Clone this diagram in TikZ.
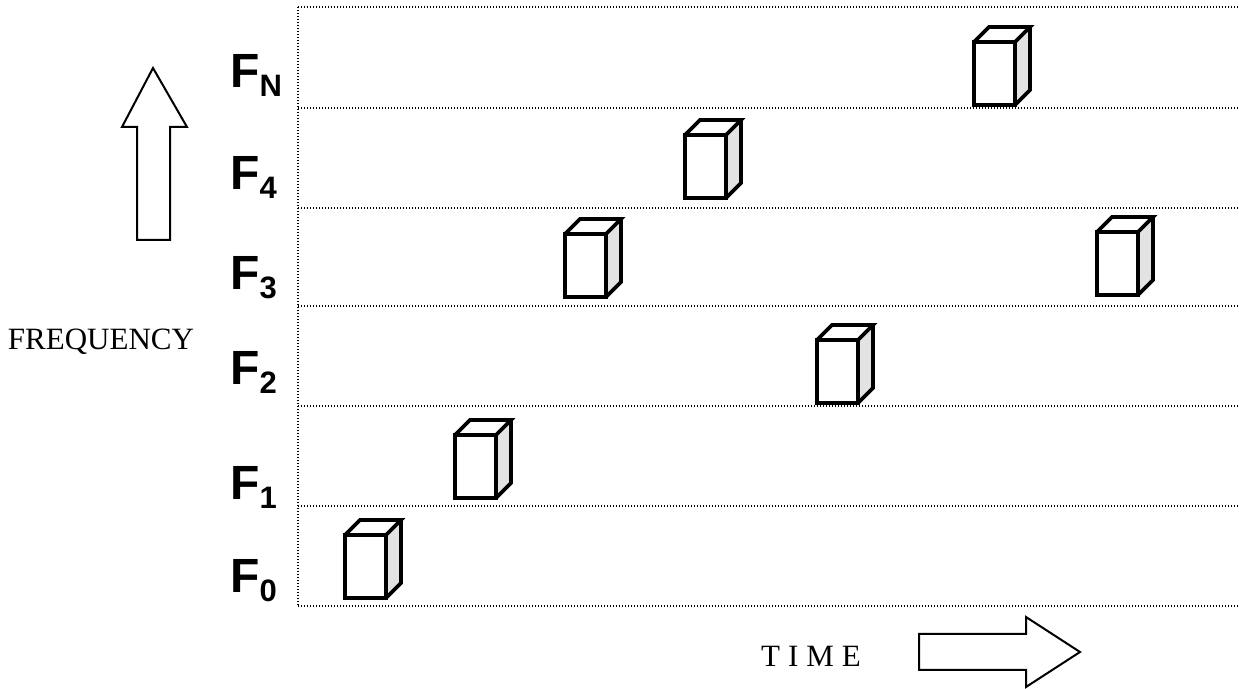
\documentclass[tikz,border=0pt]{standalone}
\usepackage{fontspec}
\setmainfont{Liberation Serif}
\setsansfont{Liberation Sans}
\newcommand{\freq}[1]{\sffamily\bfseries\fontsize{24}{24}\selectfont F\raisebox{-4.5pt}{\fontsize{15.5}{15.5}\selectfont #1}}
\tikzset{
  grid line/.style={line width=0.6pt, dash pattern=on 0.6pt off 0.9pt},
  band/.style={anchor=base west, inner sep=0pt},
  fat arrow/.style={draw, line width=1pt, line join=miter, fill=white},
  burst/.pic={
    \fill[gray!22] (41,0) -- (56,-15) -- (56,-78) -- (41,-63) -- cycle;
    \draw[line width=1.8pt, line join=miter] (0,0) rectangle (41,-63);
    \draw[line width=1.8pt, line join=miter] (0,-63) -- (15,-78) -- (56,-78) -- (41,-63);
    \draw[line width=1.8pt, line join=miter] (56,-78) -- (56,-15) -- (41,0);
  }
}
\begin{document}
\begin{tikzpicture}[x=0.5pt, y=-0.5pt]
    \useasboundingbox (0,0) rectangle (1239,689);

    % grid of frequency bands
    \foreach \y in {7,108,208,306,406,506,606}
        \draw[grid line] (298,\y) -- (1239,\y);
    \draw[grid line] (298,7) -- (298,606);

    % band labels
    \node[band] (fn) at (230,88) {\freq{N}};
    \node[band] (f4) at (230,190) {\freq{4}};
    \node[band] (f3) at (230,290) {\freq{3}};
    \node[band] (f2) at (230,385) {\freq{2}};
    \node[band] (f1) at (230,500) {\freq{1}};
    \node[band] (f0) at (230,593) {\freq{0}};

    % hops
    \pic at (345,598) {burst};
    \pic at (455,498) {burst};
    \pic at (565,297) {burst};
    \pic at (685,198) {burst};
    \pic at (817,403) {burst};
    \pic at (974,105) {burst};
    \pic at (1097,295) {burst};

    % axes
    \draw[fat arrow] (137,240) -- (137,127) -- (122,127) -- (153,68)
        -- (187,127) -- (170,127) -- (170,240) -- cycle;
    \node (freqlabel) at (101,342) {\fontsize{15.5}{15.5}\selectfont FREQUENCY};
    \draw[fat arrow] (919,634) -- (1026,634) -- (1026,617) -- (1080,652)
        -- (1026,687) -- (1026,670) -- (919,670) -- cycle;
    \node (timelabel) at (811,656) {\fontsize{15.5}{15.5}\selectfont T\hspace{4pt}I\hspace{4pt}M\hspace{4pt}E};
\end{tikzpicture}
\end{document}
